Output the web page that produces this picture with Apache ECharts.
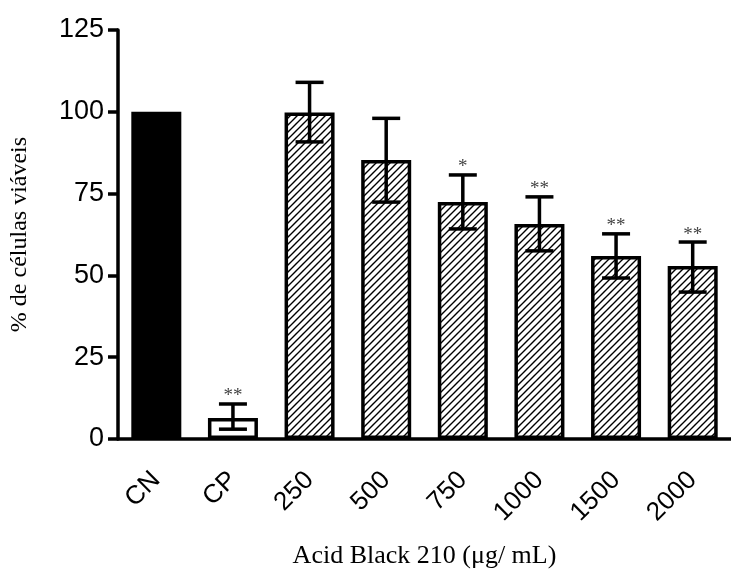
<!DOCTYPE html>
<html>
<head>
<meta charset="utf-8">
<script src="https://cdn.jsdelivr.net/npm/echarts@6/dist/echarts.min.js"></script>
<style>
  html, body { margin: 0; padding: 0; background: #fff; }
  #chart { width: 731px; height: 585px; }
</style>
</head>
<body>
<div id="chart"></div>
<script>
// groups on the x axis
var categories = ['CN', 'CP', '250', '500', '750', '1000', '1500', '2000'];
// mean % viable cells
var means = [100, 6.4, 99.8, 85.3, 72.4, 65.7, 55.9, 52.9];
// error bar ends
var errLow = [null, 3.0, 90.8, 72.4, 64.2, 57.5, 49.2, 44.9];
var errHigh = [null, 10.7, 109.0, 98.0, 80.7, 74.0, 62.7, 60.2];
// significance marks
var marks = ['', '**', '', '', '*', '**', '**', '**'];
// y axis ticks
var yTicks = [0, 25, 50, 75, 100, 125];

// hatch pattern (diagonal "/" lines)
function makeHatch() {
  var s = 7;
  var c = document.createElement('canvas');
  c.width = s; c.height = s;
  var ctx = c.getContext('2d');
  ctx.fillStyle = '#fff';
  ctx.fillRect(0, 0, s, s);
  ctx.strokeStyle = '#000';
  ctx.lineWidth = 1.4;
  ctx.beginPath();
  ctx.moveTo(0, s); ctx.lineTo(s, 0);
  ctx.moveTo(-1, 1); ctx.lineTo(1, -1);
  ctx.moveTo(s - 1, s + 1); ctx.lineTo(s + 1, s - 1);
  ctx.stroke();
  return c;
}
var hatch = { image: makeHatch(), repeat: 'repeat' };

var barData = means.map(function (v, i) {
  var fill = i === 0 ? '#000' : (i === 1 ? '#fff' : hatch);
  return { value: v, itemStyle: { color: fill } };
});

var errData = categories.map(function (c, i) {
  return [i, errLow[i], errHigh[i]];
});

var chart = echarts.init(document.getElementById('chart'));
var option = {
  animation: false,
  grid: { left: 117, top: 30, width: 621, height: 409 },
  xAxis: {
    type: 'category',
    data: categories,
    name: 'Acid Black 210 (μg/ mL)',
    nameLocation: 'middle',
    nameGap: 104,
    nameTextStyle: { fontFamily: 'Liberation Serif', fontSize: 26, color: '#000' },
    axisLine: { lineStyle: { color: '#000', width: 3.5 } },
    axisTick: { alignWithLabel: true, length: 13, lineStyle: { color: '#000', width: 3.5 } },
    axisLabel: {
      rotate: 45, margin: 37, interval: 0,
      fontFamily: 'Liberation Sans', fontSize: 26, color: '#000'
    }
  },
  yAxis: {
    type: 'value',
    min: 0, max: 125, interval: 25,
    name: '% de células viáveis',
    nameLocation: 'middle',
    nameGap: 86,
    nameRotate: 90,
    nameTextStyle: { fontFamily: 'Liberation Serif', fontSize: 24, color: '#000' },
    splitLine: { show: false },
    axisLine: { show: true, lineStyle: { color: '#000', width: 3.5 } },
    axisTick: { show: true, length: 10, lineStyle: { color: '#000', width: 3.5 } },
    axisLabel: {
      margin: 14, fontFamily: 'Liberation Sans', fontSize: 27, color: '#000',
      formatter: function (v) { return yTicks.indexOf(v) >= 0 ? String(v) : ''; }
    }
  },
  series: [
    {
      type: 'bar',
      data: barData,
      barWidth: 50,
      itemStyle: { borderColor: '#000', borderWidth: 3.5 }
    },
    {
      type: 'custom',
      data: errData,
      z: 10,
      renderItem: function (params, api) {
        var i = api.value(0);
        var lo = api.value(1), hi = api.value(2);
        if (isNaN(lo) || isNaN(hi) || lo == null) return null;
        var pLo = api.coord([i, lo]);
        var pHi = api.coord([i, hi]);
        var hw = 14;
        var st = { stroke: '#000', lineWidth: 3.5 };
        var kids = [
          { type: 'line', shape: { x1: pLo[0], y1: pLo[1], x2: pHi[0], y2: pHi[1] }, style: st },
          { type: 'line', shape: { x1: pLo[0] - hw, y1: pLo[1], x2: pLo[0] + hw, y2: pLo[1] }, style: st },
          { type: 'line', shape: { x1: pHi[0] - hw, y1: pHi[1], x2: pHi[0] + hw, y2: pHi[1] }, style: st }
        ];
        var m = marks[params.dataIndex];
        if (m) {
          kids.push({
            type: 'text',
            style: {
              x: pHi[0], y: pHi[1] + 2, text: m,
              fill: '#444', font: '19px "Liberation Serif"',
              align: 'center', verticalAlign: 'bottom'
            }
          });
        }
        return { type: 'group', children: kids };
      }
    }
  ]
};
chart.setOption(option);
</script>
</body>
</html>
